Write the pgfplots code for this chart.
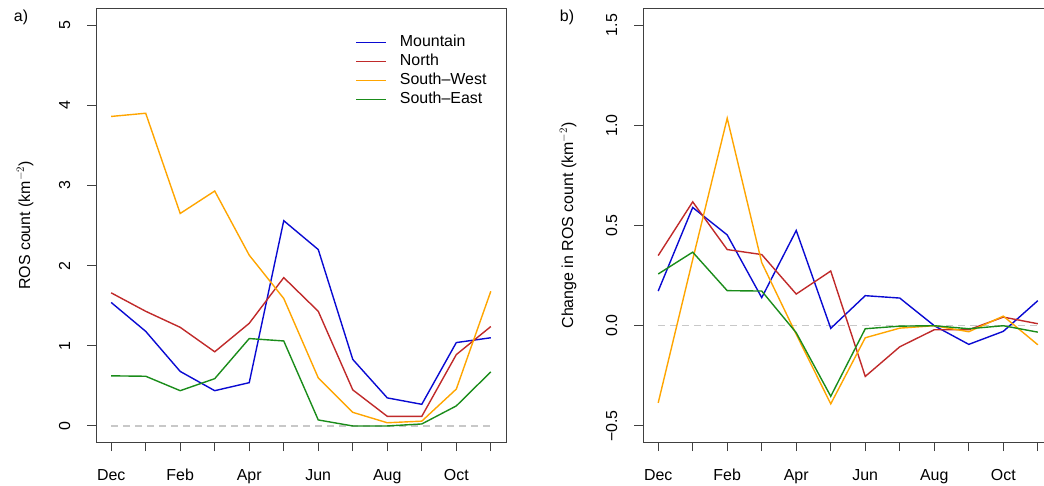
\documentclass[border=0pt]{standalone}
\usepackage{fontspec}
\setmainfont{Liberation Sans}
\usepackage{pgfplots}
\usepackage{pgfplotstable}
\pgfplotsset{compat=1.18}
\usetikzlibrary{calc}

\definecolor{cmtn}{HTML}{0A0AD2}
\definecolor{cnor}{HTML}{C02A2A}
\definecolor{csw}{HTML}{FFA500}
\definecolor{cse}{HTML}{1A8C1A}
\definecolor{zgrey}{HTML}{C8C8C8}

% monthly ROS count, Dec..Nov
\pgfplotstableread{
x  mtn   nor   sw    se
0  1.54  1.66  3.86  0.625
1  1.18  1.43  3.90  0.62
2  0.68  1.23  2.65  0.44
3  0.44  0.925 2.93  0.59
4  0.54  1.28  2.13  1.09
5  2.56  1.85  1.59  1.06
6  2.20  1.43  0.60  0.075
7  0.83  0.45  0.17  0.0
8  0.35  0.12  0.04  0.0
9  0.27  0.12  0.06  0.025
10 1.04  0.89  0.46  0.25
11 1.10  1.24  1.68  0.675
}\countdata

% change in ROS count
\pgfplotstableread{
x  mtn    nor    sw     se
0  0.173  0.35   -0.385 0.258
1  0.59   0.618  0.33   0.367
2  0.453  0.38   1.035  0.175
3  0.14   0.355  0.315  0.173
4  0.475  0.158  -0.043 -0.035
5  -0.013 0.273  -0.39  -0.352
6  0.15   -0.253 -0.06  -0.015
7  0.138  -0.105 -0.012 -0.002
8  0.0    -0.02  0.0    0.0
9  -0.093 -0.02  -0.03  -0.015
10 -0.028 0.043  0.048  0.0
11 0.125  0.01   -0.095 -0.032
}\changedata

\newcommand{\rfont}{\fontsize{16}{19}\selectfont}

\pgfplotsset{
  rstyle/.style={
    scale only axis,
    width=410bp, height=433bp,
    anchor=south west,
    xmin=-0.44, xmax=11.44,
    xtick={0,...,11},
    xticklabels={Dec,,Feb,,Apr,,Jun,,Aug,,Oct,},
    xtick pos=lower, ytick pos=left,
    tick align=outside,
    major tick length=9bp,
    axis line style={draw=black!75, line width=1bp},
    every tick/.style={black!75, line width=1bp},
    tick label style={font=\rfont},
    label style={font=\rfont},
    yticklabel style={xshift=-17bp, rotate=90, anchor=base},
    xticklabel style={yshift=-29bp, anchor=base},
    every axis plot/.append style={line width=1.4bp},
    zline/.style={zgrey, line width=1.2bp, dash pattern=on 7bp off 5bp},
    clip=false,
  },
}

\begin{document}
\begin{tikzpicture}
\useasboundingbox (0,0) rectangle (1044bp,486bp);

\begin{axis}[rstyle, at={(96bp,44bp)},
  ymin=-0.2, ymax=5.2,
  ytick={0,...,5}, yticklabels={0,1,2,3,4,5},
  ylabel={ROS count (km$^{-2}$)},
  ylabel style={at={($(rel axis cs:0,0.5)+(-66bp,0)$)}, anchor=base, rotate=0},
  legend style={at={(rel axis cs:0.625,0.95)}, anchor=north west, draw=none, fill=none,
    font=\rfont, row sep=0bp, column sep=10bp,
    nodes={inner ysep=0bp, inner xsep=3bp, text height=14bp, text depth=5bp}},
  legend cell align=left,
  legend image code/.code={\draw[#1, line width=1.5bp] (0,0) -- (30bp,0);},
]
\addplot[zline, forget plot] coordinates {(0,0) (11,0)};
\addplot[cmtn] table[x=x,y=mtn] {\countdata};
\addplot[cnor] table[x=x,y=nor] {\countdata};
\addplot[csw] table[x=x,y=sw] {\countdata};
\addplot[cse] table[x=x,y=se] {\countdata};
\legend{Mountain,North,South–West,South–East}
\end{axis}

\begin{axis}[rstyle, at={(643bp,44bp)},
  ymin=-0.58, ymax=1.58,
  ytick={-0.5,0,0.5,1,1.5}, yticklabels={−0.5,0.0,0.5,1.0,1.5},
  ylabel={Change in ROS count (km$^{-2}$)},
  ylabel style={at={($(rel axis cs:0,0.5)+(-70bp,0)$)}, anchor=base, rotate=0},
]
\addplot[zline] coordinates {(0,0) (11,0)};
\addplot[cmtn] table[x=x,y=mtn] {\changedata};
\addplot[cnor] table[x=x,y=nor] {\changedata};
\addplot[csw] table[x=x,y=sw] {\changedata};
\addplot[cse] table[x=x,y=se] {\changedata};
\end{axis}

\node[font=\rfont] at (21bp,469bp) {a)};
\node[font=\rfont] at (567bp,469bp) {b)};
\end{tikzpicture}
\end{document}
